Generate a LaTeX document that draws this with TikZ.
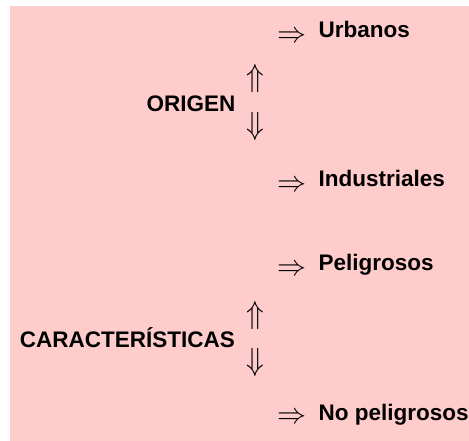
\documentclass[tikz,border=0pt]{standalone}
\usepackage{fontspec}
\usepackage{graphicx}
\setmainfont{Liberation Sans}
\definecolor{bgpink}{RGB}{255,204,204}
\begin{document}
\begin{tikzpicture}[x=1pt,y=-1pt,
  lbl/.style={inner sep=0pt, font=\fontsize{22.5}{27}\selectfont\bfseries},
  harrow/.style={inner sep=0pt, anchor=base, font=\normalsize},
  varrow/.style={inner sep=0pt, anchor=center, font=\normalsize}]
\useasboundingbox (0,0) rectangle (469,441);
\fill[bgpink] (10,6) rectangle (469,441);
% headings
\node[lbl, anchor=base east] (origen) at (235.5,112) {ORIGEN};
\node[lbl, anchor=base east] (caract) at (235,347) {CARACTERÍSTICAS};
% vertical arrows
\node[varrow] (up1) at (255.5,79) {\scalebox{2.9}[3.2]{$\Uparrow$}};
\node[varrow] (dn1) at (255.5,127) {\scalebox{2.9}[3.2]{$\Downarrow$}};
\node[varrow] (up2) at (255.5,315) {\scalebox{2.9}[3.2]{$\Uparrow$}};
\node[varrow] (dn2) at (255.5,362.5) {\scalebox{2.9}[3.2]{$\Downarrow$}};
% right arrows
\node[harrow] (r1) at (292.2,42.5) {\scalebox{2.9}{$\Rightarrow$}};
\node[harrow] (r2) at (292.2,191.5) {\scalebox{2.9}{$\Rightarrow$}};
\node[harrow] (r3) at (292.2,275) {\scalebox{2.9}{$\Rightarrow$}};
\node[harrow] (r4) at (292.2,423.5) {\scalebox{2.9}{$\Rightarrow$}};
% items
\node[lbl, anchor=base west] (urb) at (318.5,37.5) {Urbanos};
\node[lbl, anchor=base west] (ind) at (318.5,187) {Industriales};
\node[lbl, anchor=base west] (pel) at (318.5,270.5) {Peligrosos};
\node[lbl, anchor=base west] (nop) at (318.5,420) {No peligrosos};
\end{tikzpicture}
\end{document}
